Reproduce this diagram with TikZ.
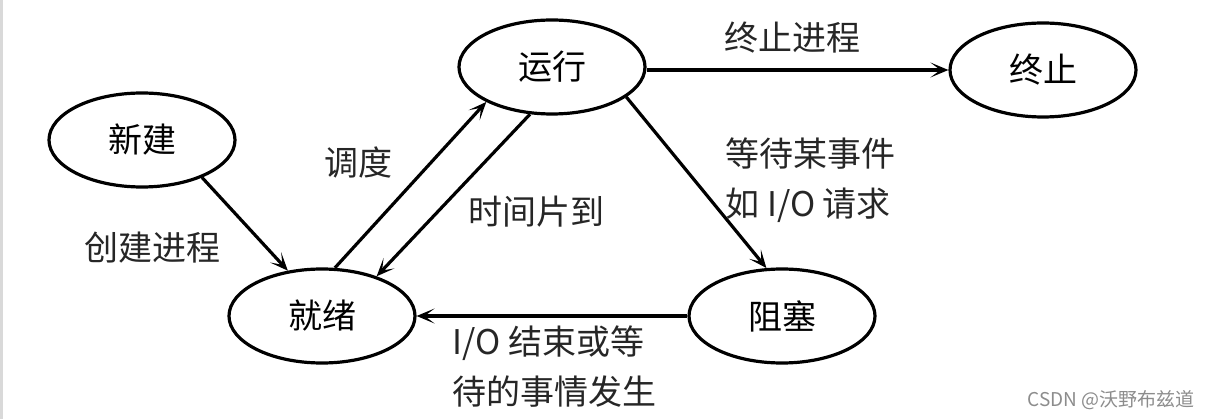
\documentclass[tikz,border=0pt]{standalone}
\usepackage{fontspec}
\setmainfont{Noto Sans CJK SC}
\usetikzlibrary{shapes.geometric,arrows.meta}

\begin{document}
\begin{tikzpicture}[
        x=1pt,y=-1pt,
        state/.style={ellipse,draw,line width=3.2pt,minimum width=186pt,minimum height=94pt,inner sep=0pt,font=\fontsize{34}{40}\selectfont},
        lbl/.style={font=\fontsize{34}{40}\selectfont,text=black!85,inner sep=0pt},
        ->,>={Stealth[length=18pt,width=15pt,inset=10pt]},line width=3.2pt
    ]
        \useasboundingbox (0,0) rectangle (1210,419);
        \fill[black!15] (0,0) rectangle (3,419);

        \node[state] (xj) at (142,140) {新建};
        \node[state] (yx) at (552,67) {运行};
        \node[state] (zz) at (1043,70) {终止};
        \node[state] (jx) at (322,316) {就绪};
        \node[state] (zs) at (782,316) {阻塞};

        \draw (xj.-32) -- (jx.127);
        \draw (jx.75) -- (yx.-152);
        \draw (yx.-115) -- (jx.36);
        \draw (yx.east |- zz.west) -- (zz.west);
        \draw (yx.-22) -- (zs.108);
        \draw (zs.west) -- (jx.east);

        \node[lbl] (l1) at (152,248) {创建进程};
        \node[lbl] (l2) at (358,162) {调度};
        \node[lbl] (l3) at (536,212) {时间片到};
        \node[lbl] (l4) at (792,38) {终止进程};
        \node[lbl,anchor=west,align=left,font=\fontsize{34}{50}\selectfont] (l5) at (724,180) {等待某事件\\如 I/O 请求};
        \node[lbl,anchor=west,align=left,font=\fontsize{34}{50}\selectfont] (l6) at (451,367) {I/O 结束或等\\待的事情发生};

        % watermark
        \node[inner sep=0pt,anchor=east,text=black!45,font=\fontsize{19}{21}\selectfont] (wm) at (1196,400) {CSDN @沃野布兹道};
    \end{tikzpicture}
\end{document}
